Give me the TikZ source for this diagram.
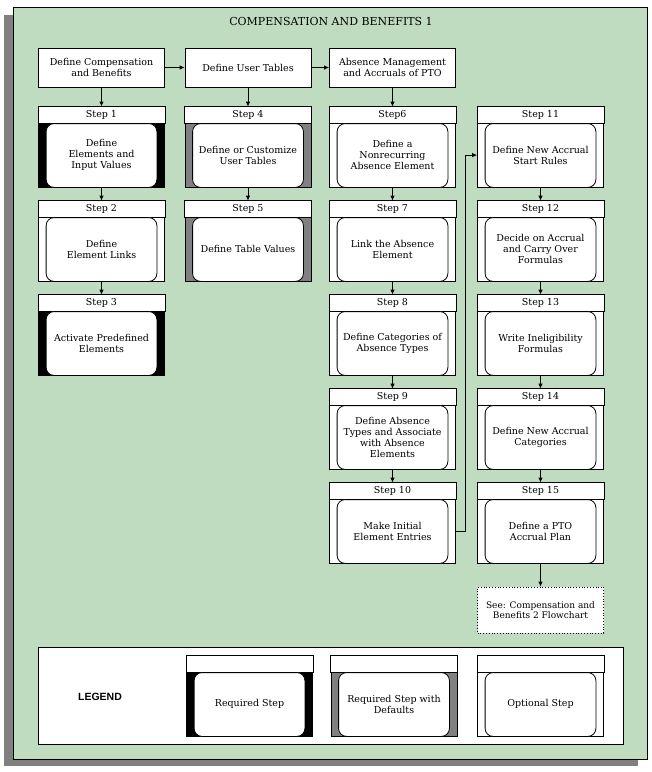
\documentclass[tikz,border=0pt]{standalone}
\usepackage{fontspec}
\setmainfont{DejaVu Serif}
\newfontfamily\legendfont{Liberation Sans}
\usetikzlibrary{calc,arrows.meta}
\definecolor{panel}{RGB}{192,220,192}
\definecolor{shadowgray}{RGB}{128,128,128}
\definecolor{dflt}{RGB}{128,128,128}

\tikzset{
  boxtext/.style={font=\fontsize{9.5}{11}\selectfont, align=center, inner sep=0pt},
  smalltext/.style={font=\fontsize{9}{10.5}\selectfont, align=center, inner sep=0pt},
  topbox/.style={draw, fill=white, minimum width=126pt, minimum height=39pt, boxtext},
  stepframe/.style={draw, minimum width=126pt, minimum height=80pt, inner sep=0pt},
  flow/.style={-{Latex[length=5pt,width=4.5pt]}},
}

% style, name, centre x, top y, header, text, body colour
\newcommand{\stepbox}[7][boxtext]{%
  \node[stepframe, fill=#7] (#2) at (#3,#4+40) {};
  \draw[fill=white] (#2.north west) rectangle ($(#2.north east)+(0,17)$);
  \draw[fill=white, rounded corners=8pt] ($(#2.north west)+(8,17)$) rectangle ($(#2.south east)+(-8,0)$);
  \node[boxtext] (#2h) at ($(#2.north)+(0,8.5)$) {#5};
  \node[#1] (#2t) at ($(#2.north)+(0,48.5)$) {#6};
}

\begin{document}
\begin{tikzpicture}[x=1pt, y=-1pt, line width=0.8pt]
  \useasboundingbox (0,0) rectangle (652,772);
  % panel with its shadow
  \fill[shadowgray] (4,15) rectangle (638,766);
  \draw[fill=panel] (13,7) rectangle (647,759);
  \node[font=\fontsize{11}{13}\selectfont] (title) at (331,21) {COMPENSATION AND BENEFITS 1};

  % top row
  \node[topbox] (cb) at (101.5,67.5) {Define Compensation\\and Benefits};
  \node[topbox] (ut) at (248,67.5) {Define User Tables};
  \node[topbox] (am) at (392.5,67.5) {Absence Management\\and Accruals of PTO};

  % steps
  \stepbox{s1}{101.5}{107}{Step 1}{Define\\Elements and\\Input Values}{black}
  \stepbox{s2}{101.5}{201}{Step 2}{Define\\Element Links}{white}
  \stepbox{s3}{101.5}{295}{Step 3}{Activate Predefined\\Elements}{black}
  \stepbox{s4}{248}{107}{Step 4}{Define or Customize\\User Tables}{dflt}
  \stepbox{s5}{248}{201}{Step 5}{Define Table Values}{dflt}
  \stepbox{s6}{392.5}{107}{Step6}{Define a\\Nonrecurring\\Absence Element}{white}
  \stepbox{s7}{392.5}{201}{Step 7}{Link the Absence\\Element}{white}
  \stepbox{s8}{392.5}{295}{Step 8}{Define Categories of\\Absence Types}{white}
  \stepbox{s9}{392.5}{389}{Step 9}{Define Absence\\Types and Associate\\with Absence\\Elements}{white}
  \stepbox{s10}{392.5}{483}{Step 10}{Make Initial\\Element Entries}{white}
  \stepbox{s11}{540.5}{107}{Step 11}{Define New Accrual\\Start Rules}{white}
  \stepbox{s12}{540.5}{201}{Step 12}{Decide on Accrual\\and Carry Over\\Formulas}{white}
  \stepbox{s13}{540.5}{295}{Step 13}{Write Ineligibility\\Formulas}{white}
  \stepbox{s14}{540.5}{389}{Step 14}{Define New Accrual\\Categories}{white}
  \stepbox{s15}{540.5}{483}{Step 15}{Define a PTO\\Accrual Plan}{white}

  \node[draw, dotted, fill=white, minimum width=126pt, minimum height=46pt, smalltext] (see) at (540.5,610)
    {See: Compensation and\\Benefits 2 Flowchart};

  % connectors
  \draw[flow] (cb.east) -- (ut.west);
  \draw[flow] (ut.east) -- (am.west);
  \draw[flow] (cb.south) -- (s1.north);
  \draw[flow] (s1.south) -- (s2.north);
  \draw[flow] (s2.south) -- (s3.north);
  \draw[flow] (ut.south) -- (s4.north);
  \draw[flow] (s4.south) -- (s5.north);
  \draw[flow] (am.south) -- (s6.north);
  \draw[flow] (s6.south) -- (s7.north);
  \draw[flow] (s7.south) -- (s8.north);
  \draw[flow] (s8.south) -- (s9.north);
  \draw[flow] (s9.south) -- (s10.north);
  \draw[flow] (s10t -| s10.east) -- ++(9,0) |- (s11t -| s11.west);
  \draw[flow] (s11.south) -- (s12.north);
  \draw[flow] (s12.south) -- (s13.north);
  \draw[flow] (s13.south) -- (s14.north);
  \draw[flow] (s14.south) -- (s15.north);
  \draw[flow] (s15.south) -- (see.north);

  % legend
  \node[draw, fill=white, minimum width=585pt, minimum height=97pt, inner sep=0pt] (legend) at (330.5,695.5) {};
  \node[font=\legendfont\bfseries\fontsize{10.5}{12}\selectfont] (legendlabel) at (100,697) {LEGEND};
  \stepbox{lreq}{249.5}{656}{}{Required Step}{black}
  \stepbox{ldef}{394}{656}{}{Required Step with\\Defaults}{dflt}
  \stepbox{lopt}{540.5}{656}{}{Optional Step}{white}
\end{tikzpicture}
\end{document}
